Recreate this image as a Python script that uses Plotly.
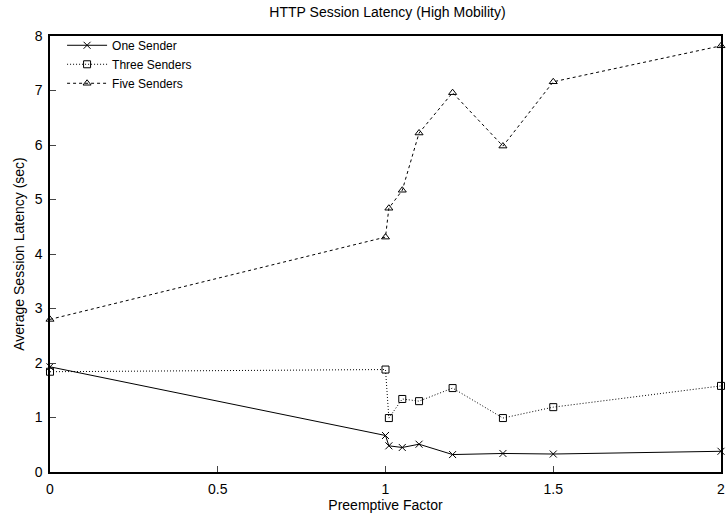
import plotly.graph_objects as go

x_vals = [0, 1, 1.01, 1.05, 1.1, 1.2, 1.35, 1.5, 2]
one_sender = [1.93, 0.67, 0.48, 0.45, 0.51, 0.32, 0.34, 0.33, 0.38]
three_senders = [1.84, 1.88, 0.99, 1.34, 1.30, 1.54, 0.99, 1.19, 1.58]
five_senders = [2.80, 4.31, 4.84, 5.17, 6.22, 6.96, 5.98, 7.16, 7.82]

x_ticks = [0, 0.5, 1, 1.5, 2]
x_tick_labels = ["0", "0.5", "1", "1.5", "2"]
y_ticks = [0, 1, 2, 3, 4, 5, 6, 7, 8]

FONT = "Liberation Sans, Arial, sans-serif"

fig = go.Figure()
fig.add_trace(go.Scatter(
    x=x_vals, y=one_sender, name="One Sender", mode="lines+markers",
    line=dict(color="black", width=1, dash="solid"),
    marker=dict(symbol="x-thin-open", size=7, color="black", line=dict(width=1, color="black")),
    cliponaxis=False))
fig.add_trace(go.Scatter(
    x=x_vals, y=three_senders, name="Three Senders", mode="lines+markers",
    line=dict(color="black", width=1, dash="1px,2px"),
    marker=dict(symbol="square-open", size=7, color="black", line=dict(width=1, color="black")),
    cliponaxis=False))
fig.add_trace(go.Scatter(
    x=x_vals, y=five_senders, name="Five Senders", mode="lines+markers",
    line=dict(color="black", width=1, dash="3px,3px"),
    marker=dict(symbol="triangle-up-open", size=7, color="black", line=dict(width=1, color="black")),
    cliponaxis=False))

fig.update_layout(
    width=727, height=521,
    margin=dict(l=50, r=2, t=36, b=49),
    paper_bgcolor="white", plot_bgcolor="white",
    font=dict(family=FONT, size=14, color="black"),
    title=dict(text="HTTP Session Latency (High Mobility)", x=387.5 / 727, xanchor="center",
               y=1 - 12 / 521, yanchor="middle", font=dict(size=14, family=FONT, color="black")),
    showlegend=True,
    legend=dict(x=0.018, y=1.012, xanchor="left", yanchor="top", bgcolor="rgba(0,0,0,0)",
                font=dict(size=12, family=FONT), tracegroupgap=0, itemwidth=40),
    xaxis=dict(range=[0, 2], tickvals=x_ticks, ticktext=x_tick_labels, ticks="inside", ticklen=6,
               showgrid=False, zeroline=False, showline=True, linecolor="black", linewidth=1.5,
               mirror=True, tickfont=dict(size=14), ticklabelstandoff=3, ticklabeloverflow="allow",
               title=dict(text="Preemptive Factor", font=dict(size=14), standoff=5)),
    yaxis=dict(range=[0, 8], tickvals=y_ticks, ticks="inside", ticklen=6,
               showgrid=False, zeroline=False, showline=True, linecolor="black", linewidth=1.5,
               mirror=True, tickfont=dict(size=14), ticklabelstandoff=3, ticklabeloverflow="allow",
               title=dict(text="Average Session Latency (sec)", font=dict(size=14), standoff=7)),
)

fig.write_html("out.html", config={"displayModeBar": False})

# remove the default page margin so the figure sits at the top-left corner
with open("out.html", "r", encoding="utf-8") as f:
    html = f.read()
html = html.replace("<head>", "<head><style>html,body{margin:0;padding:0;overflow:hidden;}</style>", 1)
with open("out.html", "w", encoding="utf-8") as f:
    f.write(html)
